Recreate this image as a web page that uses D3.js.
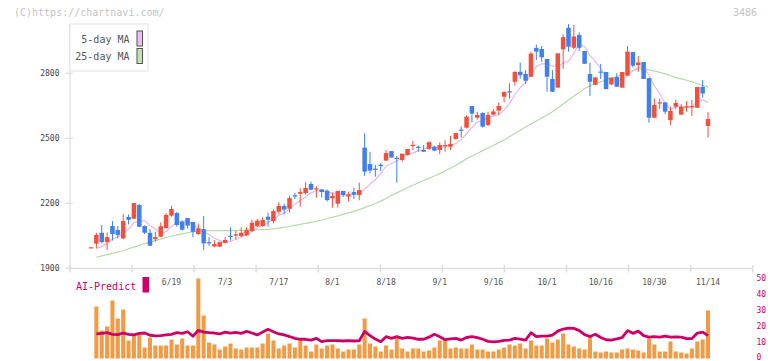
<!DOCTYPE html>
<html>
<head>
<meta charset="utf-8">
<title>3486</title>
<script src="https://d3js.org/d3.v7.min.js"></script>
<style>
body { margin: 0; background: #fff; }
svg text { font-family: "DejaVu Sans Mono", monospace; }
</style>
</head>
<body>
<svg id="chart" width="772" height="361"></svg>
<script>
// trading days 5/29 - 11/14
var dates = ("5/29 5/30 6/2 6/3 6/4 6/5 6/6 6/9 6/10 6/11 6/12 6/13 6/16 6/17 6/18 6/19 6/20 6/23 6/24 6/25 6/26 6/27 6/30 " +
  "7/1 7/2 7/3 7/4 7/7 7/8 7/9 7/10 7/11 7/14 7/15 7/16 7/17 7/18 7/22 7/23 7/24 7/25 7/28 7/29 7/30 7/31 " +
  "8/1 8/4 8/5 8/6 8/7 8/8 8/12 8/13 8/14 8/15 8/18 8/19 8/20 8/21 8/22 8/25 8/26 8/27 8/28 8/29 " +
  "9/1 9/2 9/3 9/4 9/5 9/8 9/9 9/10 9/11 9/12 9/16 9/17 9/18 9/19 9/22 9/24 9/25 9/26 9/29 9/30 " +
  "10/1 10/2 10/3 10/6 10/7 10/8 10/9 10/10 10/14 10/15 10/16 10/17 10/20 10/21 10/22 10/23 10/24 10/27 10/28 10/29 10/30 10/31 " +
  "11/4 11/5 11/6 11/7 11/10 11/11 11/12 11/13 11/14").split(" ");

var open = [1997,2014,2064,2021,2095,2077,2038,2137,2129,2192, 2095,2064,2034,2046,2086,2143,2155,2115,2132,2114,
  2058,2081,2021,2001,2000,2017,2050,2051,2049,2052, 2072,2094,2095,2138,2117,2161,2188,2175,2237,2244,
  2247,2289,2264,2264,2258,2223,2198,2257,2231,2252, 2238,2457,2381,2360,2378,2397,2441,2410,2400,2423,
  2465,2461,2446,2451,2461,2446,2466,2461,2497,2540, 2549,2649,2595,2617,2561,2609,2628,2692,2717,2761,
  2807,2797,2784,2917,2912,2866,2774,2734,2911,3010, 2918,2977,2903,2797,2747,2808,2806,2749,2783,2734,
  2789,2898,2838,2852,2778,2595,2664,2666,2584,2646, 2609,2645,2643,2641,2737,2557];
var high = [1997,2064,2100,2066,2118,2095,2151,2148,2201,2197, 2098,2081,2069,2111,2155,2188,2160,2120,2132,2114,
  2107,2141,2044,2029,2023,2044,2089,2074,2089,2090, 2126,2128,2135,2157,2172,2205,2198,2235,2248,2269,
  2297,2300,2280,2264,2264,2249,2257,2257,2254,2272, 2295,2523,2438,2377,2385,2446,2441,2418,2429,2451,
  2488,2466,2469,2487,2466,2481,2492,2511,2526,2554, 2606,2649,2623,2620,2623,2635,2666,2716,2754,2811,
  2849,2815,2901,2932,2926,2866,2815,2892,2981,3027, 3023,2989,2903,2849,2784,2843,2806,2780,2800,2806,
  2926,2898,2880,2852,2778,2684,2684,2666,2646,2678, 2658,2672,2677,2737,2769,2621];
var low = [1997,1992,2015,1984,2028,2038,2034,2103,2126,2089, 2058,2004,2023,2043,2083,2138,2092,2074,2083,2043,
  2054,1984,2004,1997,1998,2015,2028,2034,2043,2049, 2068,2091,2092,2092,2108,2149,2149,2157,2220,2184,
  2241,2260,2226,2226,2208,2180,2180,2229,2208,2220, 2214,2327,2338,2323,2350,2397,2411,2295,2392,2420,
  2446,2438,2438,2446,2440,2427,2438,2446,2494,2503, 2545,2574,2586,2549,2557,2605,2608,2666,2683,2743,
  2774,2751,2784,2861,2854,2715,2715,2734,2820,2900, 2911,2904,2844,2695,2745,2774,2727,2746,2738,2734,
  2789,2827,2807,2774,2572,2592,2635,2612,2561,2634, 2609,2623,2603,2641,2688,2503];
var close = [1997,2054,2021,2044,2058,2054,2118,2124,2201,2092, 2064,2004,2044,2094,2146,2174,2100,2078,2097,2068,
  2084,2015,2015,2012,2021,2031,2047,2057,2064,2077, 2110,2120,2123,2124,2164,2188,2171,2224,2231,2252,
  2271,2263,2269,2252,2215,2234,2257,2238,2241,2240, 2261,2346,2351,2354,2372,2432,2411,2405,2429,2451,
  2470,2456,2438,2482,2443,2469,2469,2474,2524,2536, 2600,2614,2608,2554,2608,2624,2649,2714,2712,2806,
  2791,2766,2891,2900,2874,2784,2715,2892,2967,2923, 2970,2918,2844,2761,2781,2804,2727,2780,2738,2806,
  2900,2835,2850,2774,2595,2654,2666,2623,2626,2663, 2646,2648,2649,2737,2707,2589];

var ma5 = [null,1992,2000,2015,2035,2046,2059,2080,2111,2118, 2120,2097,2081,2060,2070,2092,2112,2118,2119,2103,
  2085,2068,2056,2039,2029,2019,2025,2034,2044,2055, 2071,2086,2099,2111,2128,2144,2154,2174,2196,2213,
  2230,2248,2257,2261,2254,2247,2245,2239,2237,2242, 2247,2265,2288,2310,2337,2371,2384,2395,2410,2426,
  2433,2442,2449,2459,2458,2458,2460,2467,2476,2494, 2521,2550,2576,2582,2597,2602,2609,2630,2661,2701,
  2734,2758,2793,2831,2844,2843,2833,2833,2846,2856, 2893,2934,2924,2883,2855,2822,2783,2771,2766,2771,
  2790,2812,2826,2833,2791,2742,2708,2662,2633,2646, 2645,2641,2646,2669,2677,2666];
var ma25 = [null,1951,1957,1963,1969,1975,1982,1990,1998,2006, 2014,2021,2028,2035,2042,2048,2054,2059,2064,2068,
  2071,2073,2074,2074,2074,2074,2074,2075,2075,2076, 2077,2078,2079,2080,2082,2085,2089,2093,2098,2103,
  2107,2112,2117,2123,2130,2136,2142,2149,2156,2163, 2171,2180,2189,2199,2210,2222,2236,2248,2260,2272,
  2283,2294,2305,2316,2326,2337,2349,2362,2376,2390, 2405,2418,2430,2443,2455,2467,2480,2492,2507,2522,
  2537,2552,2566,2580,2594,2608,2623,2640,2658,2677, 2695,2712,2730,2742,2752,2761,2769,2777,2785,2793,
  2806,2813,2820,2822,2816,2811,2804,2797,2790,2780, 2774,2768,2761,2752,2744,2736];

// volume (relative units) and AI-Predict score
var volume = [0,52,28,32,58,40,49,18,23,24, 11,21,13,13,13,19,14,20,13,13,
  80,43,16,14,9,12,15,10,9,11, 11,11,15,25,18,10,13,15,11,18,
  13,7,14,10,13,14,10,7,9,9, 14,40,15,12,7,13,9,21,10,7,
  10,10,7,8,11,18,18,10,11,10, 10,14,9,9,7,7,9,11,14,13,
  15,10,18,13,13,20,16,19,25,14, 12,10,9,22,7,6,7,6,6,9,
  10,9,8,6,20,14,7,7,17,7, 6,5,10,17,19,48];
var aiPredict = [null,15.2,15.6,16.0,15.0,14.8,15.8,15.0,14.6,15.6, 15.8,14.4,14.0,14.2,14.6,15.0,16.0,15.6,16.6,13.8,
  17.5,16.4,16.0,15.8,15.2,16.4,15.8,16.2,15.6,16.8, 15.8,14.6,16.4,18.1,16.6,15.2,14.6,13.6,12.5,11.9,
  11.9,11.4,12.5,10.4,11.0,11.0,11.0,10.8,11.0,10.8, 11.0,16.8,14.2,12.0,10.4,13.5,12.5,13.5,12.5,13.1,
  12.6,11.9,11.9,13.2,15.0,13.5,11.6,12.2,12.5,11.4, 13.0,13.5,12.9,11.9,10.6,10.2,10.6,11.2,11.4,12.5,
  12.0,11.4,16.0,13.5,13.8,13.8,14.5,17.0,18.3,18.8, 18.7,17.3,14.8,13.6,15.0,13.0,11.6,11.4,12.1,12.9,
  17.3,15.6,17.0,14.2,13.2,13.6,13.2,13.8,13.2,13.4, 13.2,12.3,12.3,15.8,16.4,14.2];

var priceTicks = [1900, 2200, 2500, 2800];
var dateLabels = ["6/19","7/3","7/17","8/1","8/18","9/1","9/16","10/1","10/16","10/30","11/14"];
var aiTicks = [0, 10, 20, 30, 40, 50];

var UP = "#f0503c", DOWN = "#3f7fee";

var svg = d3.select("#chart");
svg.append("rect").attr("width", 772).attr("height", 361).attr("fill", "#fff");

var x = d3.scalePoint().domain(dates).range([91, 708]);
var bw = x.step() * 0.84;
var y = d3.scaleLinear().domain([1900, 2800]).range([268.3, 73.3]);
var grid = d3.scaleLinear().domain([0, 11]).range([70, 752.7]);
var yv = d3.scaleLinear().domain([0, 80]).range([358.5, 278.5]);
var ya = d3.scaleLinear().domain([0, 50]).range([358.3, 278.3]);

// copyright + code
svg.append("text").attr("x", 14).attr("y", 16).attr("font-size", "10px").attr("fill", "#c4c4c4")
  .text("(C)https://chartnavi.com/");
svg.append("text").attr("x", 757).attr("y", 16).attr("font-size", "10px").attr("fill", "#c4c4c4")
  .attr("text-anchor", "end").text("3486");

// axes
svg.append("line").attr("x1", 70).attr("x2", 70).attr("y1", 24).attr("y2", 268.5)
  .attr("stroke", "#dddddd").attr("stroke-width", 1.2);
svg.append("line").attr("x1", 70).attr("x2", 752.7).attr("y1", 268.5).attr("y2", 268.5)
  .attr("stroke", "#dddddd").attr("stroke-width", 1.5);
svg.append("g").selectAll("line").data(d3.range(12)).enter().append("line")
  .attr("x1", function(k){ return grid(k); }).attr("x2", function(k){ return grid(k); })
  .attr("y1", 265).attr("y2", 272.5).attr("stroke", "#dddddd").attr("stroke-width", 1.5);

var gy = svg.append("g");
gy.selectAll("line").data(priceTicks).enter().append("line")
  .attr("x1", 65).attr("x2", 73).attr("y1", function(d){ return y(d); }).attr("y2", function(d){ return y(d); })
  .attr("stroke", "#dddddd").attr("stroke-width", 1.2);
gy.selectAll("text").data(priceTicks).enter().append("text")
  .attr("x", 59.5).attr("y", function(d){ return y(d) + 3; })
  .attr("text-anchor", "end").attr("font-size", "8px").attr("fill", "#444")
  .text(function(d){ return d; });

svg.append("g").selectAll("text").data(dateLabels).enter().append("text")
  .attr("x", function(d){ return x(d); }).attr("y", 285)
  .attr("text-anchor", "middle").attr("font-size", "8px").attr("fill", "#555")
  .text(function(d){ return d; });

// moving averages
var idx = d3.range(dates.length);
function maLine(arr) {
  return d3.line().defined(function(i){ return arr[i] != null; })
    .x(function(i){ return x(dates[i]); }).y(function(i){ return y(arr[i]); })(idx);
}
svg.append("path").attr("d", maLine(ma25)).attr("fill", "none").attr("stroke", "#b6dba6").attr("stroke-width", 1.2);
svg.append("path").attr("d", maLine(ma5)).attr("fill", "none").attr("stroke", "#eab6ee").attr("stroke-width", 1.2);

// candles
var candles = svg.append("g").selectAll("g").data(idx).enter().append("g");
function col(i){ return close[i] >= open[i] ? UP : DOWN; }
candles.append("line")
  .attr("x1", function(i){ return x(dates[i]); }).attr("x2", function(i){ return x(dates[i]); })
  .attr("y1", function(i){ return y(high[i]); }).attr("y2", function(i){ return y(low[i]); })
  .attr("stroke", col).attr("stroke-width", 1);
candles.append("rect")
  .attr("x", function(i){ return x(dates[i]) - bw / 2; }).attr("width", bw)
  .attr("y", function(i){ return y(Math.max(open[i], close[i])); })
  .attr("height", function(i){ return Math.max(1.2, Math.abs(y(open[i]) - y(close[i]))); })
  .attr("fill", col);

// legend
svg.append("rect").attr("x", 70).attr("y", 24).attr("width", 78).attr("height", 47)
  .attr("fill", "#fff").attr("stroke", "#e2e2e2").attr("stroke-width", 1);
var legend = [{t: "5-day MA", c: "#efbcf0", y: 31}, {t: "25-day MA", c: "#c2e1b5", y: 48.5}];
var lg = svg.append("g").selectAll("g").data(legend).enter().append("g");
lg.append("rect").attr("x", 137).attr("y", function(d){ return d.y; }).attr("width", 5.5).attr("height", 15)
  .attr("fill", function(d){ return d.c; }).attr("stroke", "#555").attr("stroke-width", 1);
lg.append("text").attr("x", 129.5).attr("y", function(d){ return d.y + 11.5; })
  .attr("text-anchor", "end").attr("font-size", "10px").attr("fill", "#555")
  .text(function(d){ return d.t; });

// volume bars
var vw = x.step() * 0.75;
svg.append("g").selectAll("rect").data(idx.filter(function(i){ return volume[i] > 0; })).enter().append("rect")
  .attr("x", function(i){ return x(dates[i]) - vw / 2; }).attr("width", vw)
  .attr("y", function(i){ return yv(volume[i]); })
  .attr("height", function(i){ return yv(0) - yv(volume[i]); })
  .attr("fill", "#f39a45");

// AI-Predict line
svg.append("path")
  .attr("d", d3.line().defined(function(i){ return aiPredict[i] != null; })
    .x(function(i){ return x(dates[i]); }).y(function(i){ return ya(aiPredict[i]); })(idx))
  .attr("fill", "none").attr("stroke", "#cc0066").attr("stroke-width", 2.8).attr("stroke-linejoin", "round");

svg.append("g").selectAll("text").data(aiTicks).enter().append("text")
  .attr("x", 756.5).attr("y", function(d){ return Math.min(ya(d) + 3, 360); })
  .attr("font-size", "8px").attr("fill", "#cc0066")
  .text(function(d){ return d; });

svg.append("text").attr("x", 76).attr("y", 289.5).attr("font-size", "10px").attr("fill", "#cc0066").text("AI-Predict");
svg.append("rect").attr("x", 142.5).attr("y", 277).attr("width", 6.5).attr("height", 15.5).attr("fill", "#cc0066");
</script>
</body>
</html>
